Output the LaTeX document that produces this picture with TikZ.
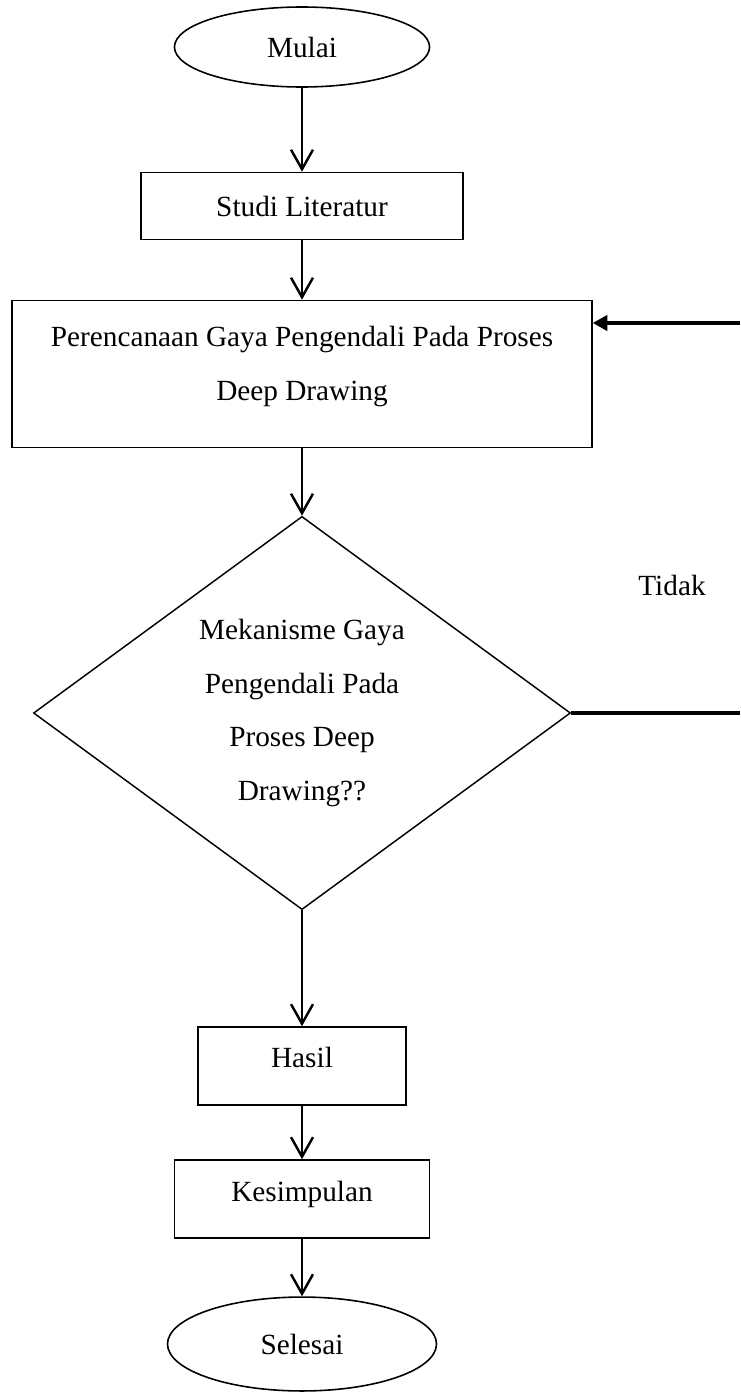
\documentclass[tikz,border=0pt]{standalone}
\usepackage{fontspec}
\setmainfont{Liberation Serif}
\usetikzlibrary{arrows.meta,shapes.geometric}

\tikzset{
  boxnode/.style={draw,line width=0.65pt,rectangle,inner sep=2pt,align=center},
  termnode/.style={draw,line width=0.65pt,ellipse,inner sep=1pt},
  decnode/.style={draw,line width=0.6pt,diamond,inner sep=0pt,align=center},
  flow/.style={line width=1pt,-{Straight Barb[length=8pt,width=9pt]}},
  back/.style={line width=1.3pt,-{Triangle[length=6pt,width=6.3pt]}}
}

\begin{document}
\begin{tikzpicture}[x=0.41pt,y=-0.41pt,font=\fontsize{12}{22}\selectfont]
  \useasboundingbox (0,0) rectangle (740,1394);

  \node[termnode,minimum width=104.6pt,minimum height=32.8pt] (mulai) at (302,47) {Mulai};
  \node[boxnode,minimum width=132pt,minimum height=27.5pt] (studi) at (302,206) {Studi Literatur};
  \node[boxnode,minimum width=237.8pt,minimum height=60.3pt,text depth=8.5pt] (rencana) at (302,374)
    {Perencanaan Gaya Pengendali Pada Proses\\Deep Drawing};
  \node[decnode,minimum width=220.2pt,minimum height=155.8pt] (cek) at (302,713)
    {Mekanisme Gaya\\Pengendali Pada\\Proses Deep\\Drawing??};
  \node[boxnode,minimum width=85.3pt,minimum height=32pt,text depth=7.2pt] (hasil) at (302,1066) {Hasil};
  \node[boxnode,minimum width=104.6pt,minimum height=32pt,text depth=6.4pt] (simpul) at (302,1199) {Kesimpulan};
  \node[termnode,minimum width=110.3pt,minimum height=38.5pt] (selesai) at (302,1344) {Selesai};

  \node (tidak) at (672,585) {Tidak};
  \coordinate (balikAtas) at (740,323);
  \coordinate (balikBawah) at (740,713);

  \draw[flow] (mulai) -- (studi);
  \draw[flow] (studi) -- (rencana);
  \draw[flow] (rencana) -- (cek);
  \draw[flow] (cek) -- (hasil);
  \draw[flow] (hasil) -- (simpul);
  \draw[flow] (simpul) -- (selesai);

  \draw[line width=1.3pt] (cek.east) -- (balikBawah);
  \draw[back] (balikAtas) -- (balikAtas -| rencana.east);
\end{tikzpicture}
\end{document}
